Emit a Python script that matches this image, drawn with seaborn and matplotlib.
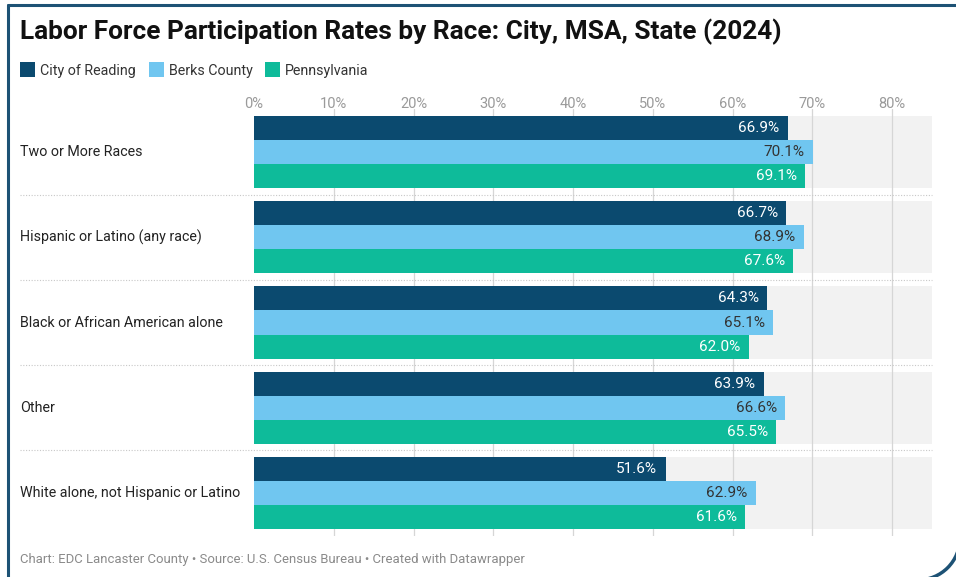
import seaborn as sns
import matplotlib.pyplot as plt
import pandas as pd
from matplotlib.patches import Rectangle, Arc
from matplotlib.lines import Line2D
import matplotlib.transforms as mtransforms

# Datos
categories = [
    "Two or More Races",
    "Hispanic or Latino (any race)",
    "Black or African American alone",
    "Other",
    "White alone, not Hispanic or Latino",
]
series = ["City of Reading", "Berks County", "Pennsylvania"]
reading = [66.9, 66.7, 64.3, 63.9, 51.6]
berks = [70.1, 68.9, 65.1, 66.6, 62.9]
penn = [69.1, 67.6, 62.0, 65.5, 61.6]
ticks = [0, 10, 20, 30, 40, 50, 60, 70, 80]

colors = ["#0b4a6f", "#70c6f0", "#0ebb9a"]
label_colors = ["white", "#333333", "white"]

df = pd.DataFrame({
    "Race": categories * 3,
    "Area": [s for s in series for _ in categories],
    "Rate": reading + berks + penn,
})

sns.set_style("white")
plt.rcParams["font.family"] = ["Roboto", "DejaVu Sans"]

fig = plt.figure(figsize=(9.56, 5.77), dpi=100)
W, H = 956, 577
ax = fig.add_axes([254 / W, 1 - 535.6 / H, (932 - 254) / W, (535.6 - 109.4) / H])

xmax = 85
# bandas grises por grupo
for i in range(len(categories)):
    ax.add_patch(Rectangle((0, i - 0.425), xmax, 0.85, facecolor="#f2f2f2",
                           edgecolor="none", zorder=0))
for t in ticks[1:]:
    ax.axvline(t, color="#d6d6d6", lw=0.9, zorder=0.5)

sns.barplot(data=df, y="Race", x="Rate", hue="Area", order=categories,
            hue_order=series, palette=colors, width=0.85, saturation=1,
            orient="h", ax=ax, legend=False, zorder=2, linewidth=0)

for cont, lc in zip(ax.containers, label_colors):
    labels = [f"{v:.1f}%" for v in cont.datavalues]
    ax.bar_label(cont, labels=labels, padding=-6, color=lc, fontsize=11,
                 zorder=3)
    for t in ax.texts[-len(labels):]:
        t.set_ha("right")

ax.set_xlim(0, xmax)
ax.set_ylim(len(categories) - 0.5, -0.5)
ax.set_xticks(ticks)
ax.set_xticklabels([f"{t}%" for t in ticks], color="#9a9a9a", fontsize=10.5)
ax.xaxis.tick_top()
ax.tick_params(axis="x", length=0, pad=-1)
ax.set_yticks([])
ax.set_xlabel("")
ax.set_ylabel("")
for s in ax.spines.values():
    s.set_visible(False)

# etiquetas de categoria
trans = mtransforms.blended_transform_factory(fig.transFigure, ax.transData)
for i, c in enumerate(categories):
    fig.text(20 / W, 0, c, transform=trans, ha="left", va="center",
             fontsize=10.3, color="#222222").set_y(i)

# separadores punteados
for i in range(len(categories) - 1):
    fig.add_artist(Line2D([20 / W, 932 / W], [i + 0.5, i + 0.5], transform=trans,
                          color="#c8c8c8", lw=0.8, linestyle=(0, (1, 1.5))))

# titulo
fig.text(20 / W, 1 - 32 / H, "Labor Force Participation Rates by Race: City, MSA, State (2024)",
         fontsize=18.9, fontweight="bold", color="#111111", va="center", ha="left")

# leyenda
leg_x = [20, 149, 265]
for x0, s, col in zip(leg_x, series, colors):
    fig.add_artist(Rectangle((x0 / W, 1 - 77 / H), 15 / W, 15 / H,
                             transform=fig.transFigure, facecolor=col, edgecolor="none"))
    fig.text((x0 + 20) / W, 1 - 70.5 / H, s, fontsize=10.3, color="#333333",
             va="center", ha="left")

# pie
fig.text(20 / W, 1 - 560 / H,
         "Chart: EDC Lancaster County \u2022 Source: U.S. Census Bureau \u2022 Created with Datawrapper",
         fontsize=9.45, color="#8a8a8a", va="center", ha="left")

# marco
frame_col = "#1d5275"
fig.add_artist(Line2D([8 / W, 8 / W], [0, 1 - 5 / H], transform=fig.transFigure,
                      color=frame_col, lw=2.2))
fig.add_artist(Line2D([8 / W, 1], [1 - 5 / H, 1 - 5 / H], transform=fig.transFigure,
                      color=frame_col, lw=2.2))
fig.add_artist(Arc((918 / W, 39 / H), 84 / W, 84 / H, theta1=-90, theta2=0,
                   transform=fig.transFigure, color=frame_col, lw=2.5))

fig.savefig("out.png", dpi=100)
